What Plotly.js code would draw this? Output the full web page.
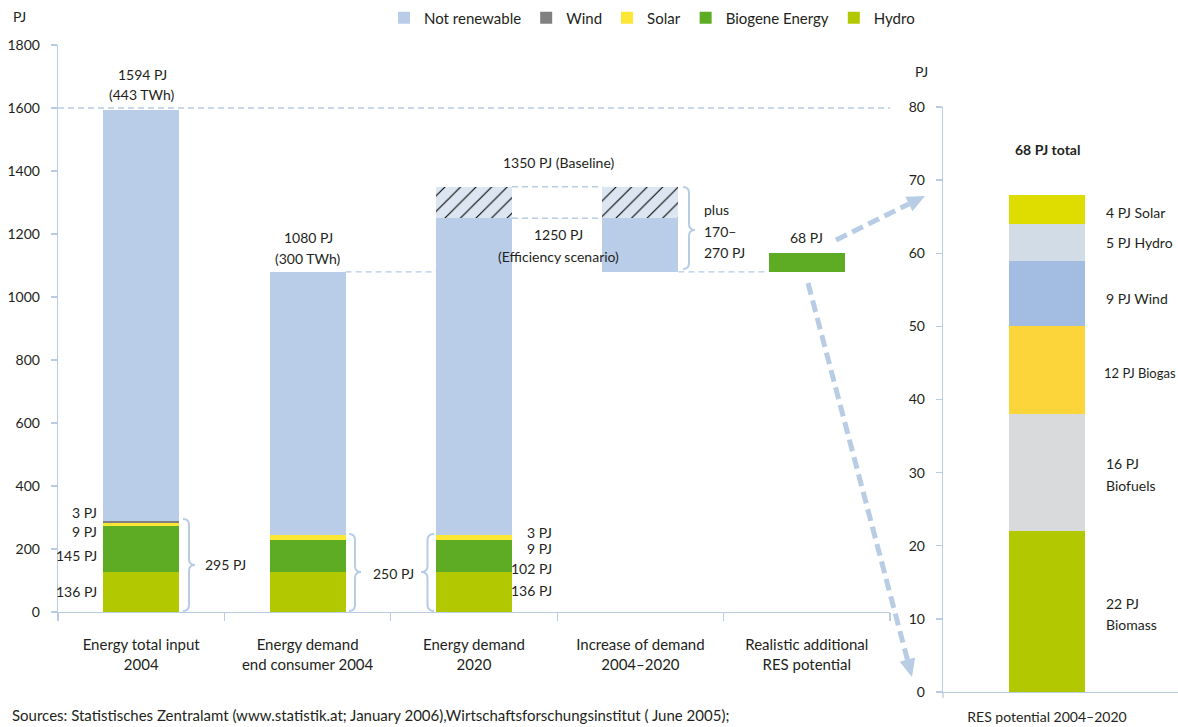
<!DOCTYPE html>
<html>
<head>
<meta charset="utf-8">
<script src="https://cdn.plot.ly/plotly-3.0.1.min.js"></script>
<style>html,body{margin:0;padding:0;background:#fff;}#chart{width:1178px;height:727px;}</style>
</head>
<body>
<div id="chart"></div>
<script>
// ---------- DATA ----------
const categories = ['Energy total input<br>2004', 'Energy demand<br>end consumer 2004', 'Energy demand<br>2020', 'Increase of demand<br>2004–2020', 'Realistic additional<br>RES potential'];
const baseOffset   = [0, 0, 0, 1080, 1080];
const hydro        = [127, 127, 127, 0, 0];
const biogene      = [145, 101, 101, 0, 60];
const solar        = [10, 17, 17, 0, 0];
const wind         = [8, 0, 0, 0, 0];
const notRenewable = [1304, 835, 1005, 170, 0];
const baselineGap  = [0, 0, 100, 100, 0];

const resCategory = ['RES potential 2004–2020'];
const resBiomass  = [22];
const resBiofuels = [16];
const resBiogas   = [12];
const resWind     = [9];
const resHydro    = [5];
const resSolar    = [4];

// ---------- STYLE ----------
const W = 1178, H = 727;
const FONT = 'Lato, "Open Sans", sans-serif';
const TXT = '#231f20';
const AX = '#b8cce4';
const BW = 0.457;      // left bar width (category units)
const BW2 = 0.3655;    // right bar width
const px = x => x / W;
const py = y => 1 - y / H;

function bar(name, y, color, opts) {
  return Object.assign({
    type: 'bar', name: name, x: categories, y: y,
    width: BW, marker: {color: color, line: {width: 0}},
    xaxis: 'x', yaxis: 'y', hoverinfo: 'name+y'
  }, opts || {});
}
function resBar(name, y, color) {
  return {type: 'bar', name: name, x: resCategory, y: y, width: BW2,
    marker: {color: color, line: {width: 0}}, xaxis: 'x2', yaxis: 'y2', showlegend: false, hoverinfo: 'name+y'};
}

const traces = [
  bar('base', baseOffset, 'rgba(0,0,0,0)', {showlegend: false, hoverinfo: 'skip'}),
  bar('Hydro', hydro, '#b2c800', {legendrank: 5}),
  bar('Biogene Energy', biogene, '#5eab24', {legendrank: 4}),
  bar('Solar', solar, '#fbe734', {legendrank: 3}),
  bar('Wind', wind, '#808080', {legendrank: 2}),
  bar('Not renewable', notRenewable, '#b9cde8', {legendrank: 1}),
  bar('Baseline', baselineGap, '#dce6f2', {showlegend: false,
      marker: {color: '#dce6f2', line: {width: 0}, pattern: {shape: '/', fgcolor: '#000000', bgcolor: '#dce6f2', size: 11, solidity: 0.1, fillmode: 'replace'}}}),
  resBar('Biomass', resBiomass, '#b2c800'),
  resBar('Biofuels', resBiofuels, '#d9dadc'),
  resBar('Biogas', resBiogas, '#fcd53b'),
  resBar('Wind', resWind, '#a3bde2'),
  resBar('Hydro', resHydro, '#d1dce7'),
  resBar('Solar', resSolar, '#dfdd00')
];

// ---------- ANNOTATIONS ----------
function txt(text, x, y, opts, size) {
  return Object.assign({text: text, x: px(x), y: py(y), xref: 'paper', yref: 'paper',
    showarrow: false, xanchor: 'center', yanchor: 'middle', font: {family: FONT, size: size || 14, color: TXT}}, opts || {});
}
const L = {xanchor: 'left'}, R = {xanchor: 'right'};
const annotations = [
  txt('PJ', 11, 17, L),
  txt('PJ', 913, 71, L),
  txt('1594 PJ', 142, 75), txt('(443 TWh)', 142, 95),
  txt('1080 PJ', 308, 238), txt('(300 TWh)', 308, 258),
  txt('1350 PJ (Baseline)', 558, 163),
  txt('1250 PJ', 558, 234), txt('(Efficiency scenario)', 558, 256),
  txt('plus', 702, 209, L), txt('170–', 702, 231, L), txt('270 PJ', 702, 252, L),
  txt('68 PJ', 806, 237),
  txt('3 PJ', 99, 512, R), txt('9 PJ', 99, 531, R), txt('145 PJ', 99, 555, R), txt('136 PJ', 99, 591, R),
  txt('295 PJ', 203, 564, L),
  txt('250 PJ', 371, 573, L),
  txt('3 PJ', 554, 532, R), txt('9 PJ', 554, 548, R), txt('102 PJ', 554, 568, R), txt('136 PJ', 554, 590, R),
  txt('<b>68 PJ total</b>', 1047, 150),
  txt('4 PJ Solar', 1104, 212, L), txt('5 PJ Hydro', 1104, 243, L), txt('9 PJ Wind', 1104, 298, L),
  txt('12 PJ Biogas', 1102, 373, L, 13),
  txt('16 PJ', 1104, 463, L), txt('Biofuels', 1104, 485, L),
  txt('22 PJ', 1104, 603, L), txt('Biomass', 1104, 624, L),
  txt('Sources: Statistisches Zentralamt (www.statistik.at; January 2006),Wirtschaftsforschungsinstitut ( June 2005);', 10, 715, L, 15)
];

// ---------- SHAPES ----------
function pp(x, y) { return px(x).toFixed(5) + ',' + py(y).toFixed(5); }
function brace(x0, tip, yTop, yBot, yMid) {
  const xm = (x0 + tip) / 2, r = 6;
  const d = 'M' + pp(x0, yTop) + ' Q' + pp(xm, yTop) + ' ' + pp(xm, yTop + r) +
            ' L' + pp(xm, yMid - r) + ' Q' + pp(xm, yMid) + ' ' + pp(tip, yMid) +
            ' Q' + pp(xm, yMid) + ' ' + pp(xm, yMid + r) +
            ' L' + pp(xm, yBot - r) + ' Q' + pp(xm, yBot) + ' ' + pp(x0, yBot);
  return {type: 'path', xref: 'paper', yref: 'paper', path: d, line: {color: AX, width: 2}};
}
function arrow(x0, y0, x1, y1) {
  const dx = x1 - x0, dy = y1 - y0, len = Math.hypot(dx, dy);
  const ux = dx / len, uy = dy / len, hl = 18, hw = 8;
  const bx = x1 - ux * hl, by = y1 - uy * hl;
  const tri = 'M' + pp(x1, y1) + ' L' + pp(bx - uy * hw, by + ux * hw) + ' L' + pp(bx + uy * hw, by - ux * hw) + ' Z';
  return [
    {type: 'line', xref: 'paper', yref: 'paper', x0: px(x0), y0: py(y0), x1: px(bx), y1: py(by),
     line: {color: AX, width: 5, dash: '12px,6px'}},
    {type: 'path', xref: 'paper', yref: 'paper', path: tri, fillcolor: AX, line: {width: 0}}
  ];
}
function hdash(xa, xb, yv) {
  return {type: 'line', xref: 'x', yref: 'y', x0: xa, x1: xb, y0: yv, y1: yv, layer: 'below',
    line: {color: AX, width: 1.3, dash: '6px,4px'}};
}
const shapes = [
  hdash(-0.5, 4.5, 1600),
  hdash(1 + BW / 2, 2 - BW / 2, baseOffset[3]),
  hdash(3 + BW / 2, 4 - BW / 2, baseOffset[3]),
  hdash(2 + BW / 2, 3 - BW / 2, 1350),
  hdash(2 + BW / 2, 3 - BW / 2, 1250),
  brace(183, 195, 519, 611, 565),
  brace(349, 361, 534, 611, 572),
  brace(434, 421, 534, 611, 572),
  brace(683, 695, 187, 269, 230),
  {type: 'line', xref: 'paper', yref: 'paper', x0: px(943), x1: px(943), y0: py(692), y1: py(698), line: {color: AX, width: 1.3}}
].concat(arrow(836, 240, 925, 196), arrow(808, 283, 912, 677));

const layout = {
  width: W, height: H,
  margin: {l: 0, r: 0, t: 0, b: 0},
  paper_bgcolor: '#fff', plot_bgcolor: 'rgba(0,0,0,0)',
  barmode: 'stack', bargap: 0,
  font: {family: FONT, size: 14, color: TXT},
  showlegend: true,
  legend: {orientation: 'h', traceorder: 'normal', x: px(384), y: py(18), xanchor: 'left', yanchor: 'middle',
    font: {family: FONT, size: 15, color: TXT}, itemwidth: 30, bgcolor: 'rgba(0,0,0,0)'},
  xaxis: {domain: [px(58), px(890)], range: [-0.5, 4.5], type: 'category', anchor: 'y',
    showline: true, linecolor: AX, linewidth: 1.3, ticks: 'outside', tickson: 'boundaries', ticklen: 8,
    tickcolor: AX, tickwidth: 1.3, ticklabelstandoff: 19, showgrid: false, zeroline: false, automargin: false,
    tickfont: {family: FONT, size: 15, color: TXT}, fixedrange: true},
  yaxis: {domain: [py(612), py(45)], range: [0, 1800], dtick: 200, anchor: 'x',
    showline: true, linecolor: AX, linewidth: 1.3, ticks: 'outside', ticklen: 6, tickcolor: AX, tickwidth: 1.3,
    showgrid: false, zeroline: false, automargin: false, ticklabelstandoff: 8,
    tickfont: {family: FONT, size: 14, color: TXT}, fixedrange: true},
  xaxis2: {domain: [px(943), 1], range: [-0.5, 0.63], type: 'category', anchor: 'y2',
    showline: true, linecolor: AX, linewidth: 1.3, ticks: '', ticklabelstandoff: 12,
    showgrid: false, zeroline: false, automargin: false,
    tickfont: {family: FONT, size: 14, color: TXT}, fixedrange: true},
  yaxis2: {domain: [py(692), py(107)], range: [0, 80], dtick: 10, anchor: 'x2',
    showline: true, linecolor: AX, linewidth: 1.3, ticks: 'outside', ticklen: 6, tickcolor: AX, tickwidth: 1.3,
    showgrid: false, zeroline: false, automargin: false, ticklabelstandoff: 8,
    tickfont: {family: FONT, size: 14, color: TXT}, fixedrange: true},
  annotations: annotations,
  shapes: shapes
};

Plotly.newPlot('chart', traces, layout, {displayModeBar: false, staticPlot: true});
</script>
</body>
</html>
